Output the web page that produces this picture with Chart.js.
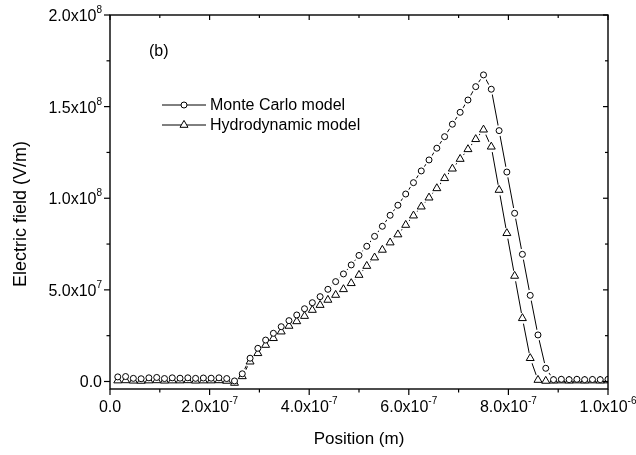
<!DOCTYPE html>
<html><head><meta charset="utf-8">
<script src="https://cdn.jsdelivr.net/npm/chart.js@4/dist/chart.umd.min.js"></script>
<style>html,body{margin:0;padding:0;background:#fff;}#wrap{width:636px;height:455px;position:relative;}</style>
</head><body><div id="wrap"><canvas id="c" width="636" height="455"></canvas></div>
<script>
// Positions in nm
const positionsNm = [15.6, 31.3, 46.9, 62.5, 78.1, 93.8, 109.4, 125, 140.6, 156.3, 171.9, 187.5, 203.1, 218.8, 234.4, 250,
  265.6, 281.3, 296.9, 312.5, 328.1, 343.8, 359.4, 375, 390.6, 406.3, 421.9, 437.5, 453.1, 468.8, 484.4, 500,
  515.6, 531.3, 546.9, 562.5, 578.1, 593.8, 609.4, 625, 640.6, 656.3, 671.9, 687.5, 703.1, 718.8, 734.4, 750,
  765.6, 781.3, 796.9, 812.5, 828.1, 843.8, 859.4, 875, 890.6, 906.3, 921.9, 937.5, 953.1, 968.8, 984.4, 1000];
// Electric field in units of 1e7 V/m
const monteCarlo = [0.25, 0.27, 0.17, 0.15, 0.20, 0.22, 0.16, 0.20, 0.18, 0.20, 0.17, 0.19, 0.18, 0.20, 0.16, 0.03,
  0.42, 1.27, 1.81, 2.26, 2.63, 2.99, 3.32, 3.63, 3.97, 4.30, 4.63, 5.03, 5.45, 5.87, 6.36, 6.88,
  7.38, 7.92, 8.47, 9.07, 9.62, 10.23, 10.85, 11.49, 12.09, 12.73, 13.36, 14.04, 14.69, 15.36, 16.09, 16.73,
  15.95, 13.69, 11.43, 9.18, 6.94, 4.70, 2.54, 0.72, 0.10, 0.12, 0.10, 0.12, 0.10, 0.11, 0.10, 0.12];
const hydrodynamic = [0.05, 0.06, 0.04, 0.03, 0.05, 0.06, 0.04, 0.05, 0.05, 0.06, 0.04, 0.05, 0.05, 0.06, 0.03, -0.08,
  0.28, 1.08, 1.54, 1.99, 2.36, 2.72, 3.03, 3.28, 3.57, 3.90, 4.17, 4.45, 4.72, 5.03, 5.36, 5.81,
  6.30, 6.76, 7.18, 7.58, 8.02, 8.54, 9.05, 9.54, 10.03, 10.54, 11.09, 11.61, 12.14, 12.67, 13.22, 13.74,
  12.81, 10.45, 8.09, 5.76, 3.45, 1.27, 0.08, 0.03, 0.04, 0.05, 0.04, 0.05, 0.04, 0.05, 0.04, 0.05];
const seriesNames = ["Monte Carlo model", "Hydrodynamic model"];
const xTickValues = [0, 2e-7, 4e-7, 6e-7, 8e-7, 1e-6];
const xTickMantissa = ["0.0", "2.0x10", "4.0x10", "6.0x10", "8.0x10", "1.0x10"];
const xTickExponent = ["", "-7", "-7", "-7", "-7", "-6"];
const xMinorTicks = [1e-7, 3e-7, 5e-7, 7e-7, 9e-7];
const yTickValues = [0, 5e7, 1e8, 1.5e8, 2e8];
const yTickMantissa = ["0.0", "5.0x10", "1.0x10", "1.5x10", "2.0x10"];
const yTickExponent = ["", "7", "8", "8", "8"];
const yMinorTicks = [2.5e7, 7.5e7, 1.25e8, 1.75e8];
const xTitle = "Position (m)";
const yTitle = "Electric field (V/m)";
const panelLabel = "(b)";

const FONT = '"Liberation Sans", Arial, sans-serif';
const toPts = vals => vals.map((v, i) => ({x: positionsNm[i] * 1e-9, y: v * 1e7}));
const mcPts = toPts(monteCarlo), hdPts = toPts(hydrodynamic);

const markerBase = {showLine: false, pointBackgroundColor: '#fff', pointBorderColor: '#000', pointBorderWidth: 1, pointHoverRadius: 0, clip: 0};
const datasets = [
  Object.assign({label: seriesNames[0], data: mcPts, pointStyle: 'circle', pointRadius: 3, order: 0}, markerBase),
  Object.assign({label: seriesNames[1], data: hdPts, pointStyle: 'triangle', pointRadius: 4.6, order: 1}, markerBase),
  {label: 'h1', data: mcPts, showLine: false, pointStyle: 'circle', pointRadius: 5.5, pointBackgroundColor: '#fff', pointBorderWidth: 0, pointBorderColor: '#fff', order: 2, clip: 0},
  {label: 'h2', data: hdPts, showLine: false, pointStyle: 'circle', pointRadius: 5.5, pointBackgroundColor: '#fff', pointBorderWidth: 0, pointBorderColor: '#fff', order: 3, clip: 0},
  {label: 'l1', data: mcPts, showLine: true, borderColor: '#000', borderWidth: 1, pointRadius: 0, tension: 0, order: 4, clip: 0},
  {label: 'l2', data: hdPts, showLine: true, borderColor: '#000', borderWidth: 1, pointRadius: 0, tension: 0, order: 5, clip: 0}
];

const decor = {
  id: 'decor',
  afterDatasetsDraw(chart) {
    const {ctx, chartArea: a, scales: {x, y}} = chart;
    ctx.save();
    ctx.strokeStyle = '#000';
    ctx.fillStyle = '#000';
    ctx.lineWidth = 1.4;
    ctx.strokeRect(a.left, a.top, a.right - a.left, a.bottom - a.top);
    ctx.lineWidth = 1.2;
    const line = (x1, y1, x2, y2) => { ctx.beginPath(); ctx.moveTo(x1, y1); ctx.lineTo(x2, y2); ctx.stroke(); };
    xTickValues.forEach(v => { const p = x.getPixelForValue(v); line(p, a.bottom, p, a.bottom + 6); line(p, a.top, p, a.top + 5); });
    xMinorTicks.forEach(v => { const p = x.getPixelForValue(v); line(p, a.bottom, p, a.bottom + 3.5); line(p, a.top, p, a.top + 3); });
    yTickValues.forEach(v => { const p = y.getPixelForValue(v); line(a.left - 6, p, a.left, p); line(a.right - 5, p, a.right, p); });
    yMinorTicks.forEach(v => { const p = y.getPixelForValue(v); line(a.left - 3.5, p, a.left, p); line(a.right - 3, p, a.right, p); });
    // tick labels
    const mFont = '16px ' + FONT, eFont = '10px ' + FONT;
    ctx.textBaseline = 'alphabetic';
    ctx.textAlign = 'left';
    xTickValues.forEach((v, i) => {
      const p = x.getPixelForValue(v);
      ctx.font = mFont; const mw = ctx.measureText(xTickMantissa[i]).width;
      ctx.font = eFont; const ew = xTickExponent[i] ? ctx.measureText(xTickExponent[i]).width : 0;
      const x0 = p - (mw + ew) / 2;
      const base = a.bottom + 23;
      ctx.font = mFont; ctx.fillText(xTickMantissa[i], x0, base);
      if (ew) { ctx.font = eFont; ctx.fillText(xTickExponent[i], x0 + mw, base - 8); }
    });
    yTickValues.forEach((v, i) => {
      const p = y.getPixelForValue(v);
      ctx.font = eFont; const ew = yTickExponent[i] ? ctx.measureText(yTickExponent[i]).width : 0;
      ctx.font = mFont; const mw = ctx.measureText(yTickMantissa[i]).width;
      const right = a.left - 8;
      const base = p + 6;
      ctx.font = mFont; ctx.fillText(yTickMantissa[i], right - ew - mw, base);
      if (ew) { ctx.font = eFont; ctx.fillText(yTickExponent[i], right - ew, base - 8); }
    });
    // axis titles
    ctx.font = '17px ' + FONT;
    ctx.textAlign = 'center';
    ctx.textBaseline = 'middle';
    ctx.fillText(xTitle, (a.left + a.right) / 2, 439);
    ctx.save();
    ctx.font = '18px ' + FONT;
    ctx.translate(21, 214);
    ctx.rotate(-Math.PI / 2);
    ctx.fillText(yTitle, 0, 0);
    ctx.restore();
    // panel label
    ctx.font = '16px ' + FONT;
    ctx.textAlign = 'left';
    ctx.fillText(panelLabel, 149, 52);
    // legend
    const styles = [{pointStyle: 'circle', radius: 3}, {pointStyle: 'triangle', radius: 4.6}];
    const rows = [105, 125];
    rows.forEach((ry, i) => {
      ctx.lineWidth = 1;
      ctx.strokeStyle = '#000';
      line(162, ry, 206, ry);
      ctx.fillStyle = '#fff';
      Chart.helpers.drawPoint(ctx, {pointStyle: styles[i].pointStyle, radius: styles[i].radius, rotation: 0, borderWidth: 1}, 184, ry);
      ctx.fillStyle = '#000';
      ctx.font = '16px ' + FONT;
      ctx.textAlign = 'left';
      ctx.textBaseline = 'middle';
      ctx.fillText(seriesNames[i], 210, ry + 1);
    });
    ctx.restore();
  }
};

new Chart(document.getElementById('c'), {
  type: 'scatter',
  data: {datasets},
  options: {
    responsive: false,
    animation: false,
    devicePixelRatio: 1,
    events: [],
    layout: {padding: {top: 15, right: 28, left: 0, bottom: 0}},
    plugins: {legend: {display: false}, tooltip: {enabled: false}, title: {display: false}},
    scales: {
      x: {type: 'linear', min: 0, max: 1e-6, grid: {display: false}, border: {display: false}, ticks: {display: false},
          afterFit: s => { s.height = 66; }},
      y: {type: 'linear', min: -4.1e6, max: 2e8, grid: {display: false}, border: {display: false}, ticks: {display: false},
          afterFit: s => { s.width = 110; }}
    }
  },
  plugins: [decor]
});
</script></body></html>
